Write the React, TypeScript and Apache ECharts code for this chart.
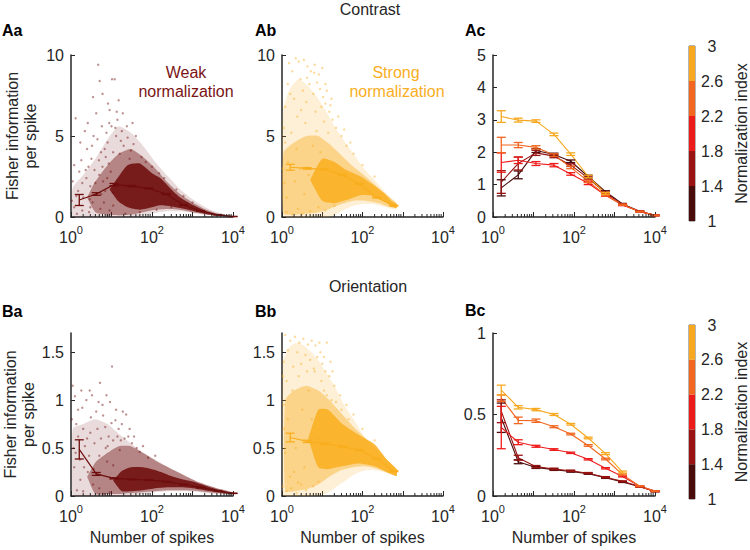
import React, { useEffect, useRef } from "react";
import * as echarts from "echarts";

const FONT = "'Liberation Sans', Arial, Helvetica, sans-serif";
const INK = "#262626";

// Normalization-index groups (1–1.4 … 2.6–3) and their colours
const NORM_EDGES = [1, 1.4, 1.8, 2.2, 2.6, 3];
const NORM_COLORS = ["#4a0b0b", "#9a1212", "#ee1b1b", "#f2661f", "#f7a81f"];
const WEAK_COLOR = "#6e0d0d";
const STRONG_COLOR = "#f9ae1e";

// Spike-count bin centres of the binned means
const SPIKE_BINS = [1.6, 4.2, 11.5, 32, 83, 224, 600, 1580, 4200, 10000];
const LOG_MINOR_TICKS = [
  2, 3, 4, 5, 6, 7, 8, 9, 20, 30, 40, 50, 60, 70, 80, 90,
  200, 300, 400, 500, 600, 700, 800, 900, 2000, 3000, 4000, 5000, 6000, 7000, 8000, 9000,
];

// ---- Contrast: binned means ± s.e.m. ----
const CONTRAST_WEAK_MEAN = [1.05, 1.42, 2.0, 1.91, 1.77, 1.42, 0.74, 0.37, 0.14, 0.03];
const CONTRAST_WEAK_SEM = [0.34, 0.08, 0.07, 0.04, 0.03, 0.03, 0.02, 0.02, 0.01, 0.01];
const CONTRAST_STRONG_MEAN = [3.07, 3.0, 2.94, 2.6, 2.04, 1.2, 0.7];
const CONTRAST_STRONG_SEM = [0.18, 0.05, 0.04, 0.03, 0.03, 0.03, 0.03];
const CONTRAST_BY_NORM_MEAN = [
  [0.9, 1.3, 2.05, 1.93, 1.72, 1.25, 0.78, 0.4, 0.18, 0.05],
  [1.08, 1.65, 1.98, 1.88, 1.6, 1.2, 0.74, 0.38, 0.17, 0.05],
  [1.68, 1.75, 1.65, 1.6, 1.33, 1.04, 0.67, 0.37, 0.17, 0.05],
  [2.22, 2.22, 2.15, 1.91, 1.53, 1.1, 0.68, 0.38, 0.17, 0.05],
  [3.1, 2.99, 2.96, 2.55, 1.94, 1.25, 0.73],
];
const CONTRAST_BY_NORM_SEM = [
  [0.25, 0.12, 0.06, 0.04, 0.04, 0.04, 0.03, 0.02, 0.01, 0.01],
  [0.35, 0.2, 0.08, 0.05, 0.04, 0.04, 0.03, 0.02, 0.01, 0.01],
  [0.3, 0.1, 0.06, 0.05, 0.04, 0.04, 0.03, 0.02, 0.01, 0.01],
  [0.24, 0.08, 0.05, 0.04, 0.04, 0.04, 0.03, 0.02, 0.01, 0.01],
  [0.18, 0.06, 0.04, 0.04, 0.04, 0.04, 0.03],
];

// ---- Orientation: binned means ± s.e.m. ----
const ORIENT_WEAK_MEAN = [0.486, 0.23, 0.184, 0.174, 0.167, 0.15, 0.12, 0.09, 0.055, 0.028];
const ORIENT_WEAK_SEM = [0.1, 0.015, 0.006, 0.004, 0.003, 0.003, 0.003, 0.003, 0.002, 0.002];
const ORIENT_STRONG_MEAN = [0.61, 0.57, 0.545, 0.515, 0.48, 0.39, 0.26];
const ORIENT_STRONG_SEM = [0.045, 0.012, 0.008, 0.006, 0.005, 0.005, 0.006];
const ORIENT_BY_NORM_MEAN = [
  [0.48, 0.21, 0.175, 0.162, 0.15, 0.137, 0.112, 0.086, 0.057, 0.028],
  [0.52, 0.235, 0.18, 0.166, 0.155, 0.14, 0.115, 0.09, 0.058, 0.028],
  [0.42, 0.33, 0.305, 0.285, 0.265, 0.225, 0.17, 0.12, 0.06, 0.03],
  [0.6, 0.464, 0.462, 0.425, 0.38, 0.31, 0.227, 0.131, 0.06, 0.03],
  [0.65, 0.544, 0.53, 0.5, 0.44, 0.356, 0.26, 0.147],
];
const ORIENT_BY_NORM_SEM = [
  [0.09, 0.012, 0.006, 0.005, 0.004, 0.004, 0.004, 0.003, 0.003, 0.002],
  [0.07, 0.015, 0.007, 0.005, 0.004, 0.004, 0.004, 0.003, 0.003, 0.002],
  [0.13, 0.015, 0.006, 0.005, 0.004, 0.004, 0.004, 0.003, 0.003, 0.002],
  [0.02, 0.02, 0.01, 0.006, 0.005, 0.005, 0.005, 0.004, 0.003, 0.002],
  [0.03, 0.01, 0.007, 0.006, 0.005, 0.005, 0.006, 0.006],
];

// ---- Per-neuron clouds: density bands [spikes, low, high] and sparse neurons [spikes, value] ----
const CW_HALO = [[1.1, 0, 1.8], [2, 0, 2.6], [4, 0, 3.6], [8, 0, 4.8], [15, 0, 5.6], [30, 0, 5.2], [60, 0.1, 4.4], [120, 0.25, 3.4], [250, 0.35, 2.5], [500, 0.35, 1.7], [1000, 0.25, 1.1], [2500, 0.12, 0.5], [6000, 0.04, 0.17], [10000, 0, 0.05]];
const CW_MID = [[2.5, 1.2, 1.2], [4, 0.3, 2.2], [8, 0.15, 3.2], [15, 0.1, 3.9], [30, 0.15, 4.2], [60, 0.3, 3.7], [120, 0.45, 3.0], [250, 0.5, 2.1], [500, 0.45, 1.4], [1000, 0.3, 0.9], [2000, 0.18, 0.5], [4000, 0.07, 0.22], [9000, 0.02, 0.06]];
const CW_CORE = [[9, 1.7, 1.7], [15, 0.95, 2.5], [25, 0.6, 3.2], [50, 0.45, 3.3], [100, 0.6, 2.7], [160, 0.72, 2.4], [300, 0.65, 1.7], [500, 0.55, 1.2], [1000, 0.38, 0.75], [2000, 0.2, 0.4], [4000, 0.08, 0.17], [9000, 0.02, 0.05]];
const CW_SPARSE = [[4.7, 9.4], [5.1, 8.4], [10.3, 8.5], [12, 8.5], [1.3, 6.1], [3.5, 7.4], [6, 7.6], [15, 7.2], [10, 5.6], [12.5, 5.5], [14, 6.0], [18, 5.3], [8, 4.6], [2.5, 4.2], [3.2, 3.6], [1.6, 2.8], [1.2, 0.6], [2, 1.2], [2.8, 0.3], [4, 2.1], [6, 3.1], [7, 1.6], [9, 0.4], [20, 4.4], [25, 4.9], [30, 4.1], [35, 4.5], [9, 6.6], [13, 5.0], [2.2, 5.3], [1.5, 1.6], [6.5, 0.9], [3.8, 2.9], [17, 4.7], [28, 3.6], [55, 3.7], [4.5, 4.8], [8.5, 3.3], [1.1, 2.2], [50, 0.3], [130, 0.45], [300, 0.6], [70, 3.4], [100, 3.1], [150, 2.7], [200, 2.4], [400, 1.7], [600, 1.3], [1000, 0.9], [1.8, 3.5], [3, 1.9], [5, 2.6], [7.5, 5.2], [11, 4.0], [16, 3.9], [22, 0.2], [1.05, 1.0], [1.4, 0.2], [2.4, 2.4], [3.4, 0.9], [5.6, 1.4], [7.8, 2.4], [11, 0.7], [8, 0.1], [1.2, 3.2], [1.7, 4.6], [2.6, 5.8], [3.6, 5.0], [4.2, 6.4], [5.8, 5.6], [6.8, 4.2], [8.2, 7.0], [1.9, 0.4], [2.3, 2.9], [2.9, 1.1], [3.3, 4.4], [4.4, 1.4], [5.3, 0.5], [6.2, 2.2], [7.2, 3.7], [9.6, 2.8], [10.8, 1.5], [1.35, 1.3], [1.9, 2.1], [4.9, 3.5], [3, 0.6], [13.5, 6.5], [24, 5.6], [40, 5.0], [33, 5.8], [19, 6.4], [8.8, 5.8], [2.7, 3.1], [5.5, 4.0]];

const CS_HALO = [[1.05, 0, 6.5], [1.5, 0, 7.8], [2.5, 0, 8.5], [4, 0, 8.2], [7, 0, 7.5], [12, 0, 6.6], [20, 0.1, 5.6], [35, 0.45, 4.7], [60, 0.7, 3.9], [100, 0.8, 3.1], [180, 0.8, 2.4], [320, 0.65, 1.7], [550, 0.5, 1.1], [700, 0.5, 0.85]];
const CS_MID = [[1.1, 0.2, 4.0], [2, 0.15, 4.6], [4, 0.2, 5.0], [8, 0.3, 5.0], [15, 0.5, 4.5], [30, 0.8, 3.8], [60, 1.0, 3.1], [120, 1.0, 2.5], [250, 0.85, 1.8], [500, 0.6, 1.15], [700, 0.55, 0.85]];
const CS_CORE = [[5, 2.3, 2.3], [10, 1.0, 3.6], [20, 0.85, 3.4], [40, 1.05, 2.9], [90, 1.35, 2.5], [180, 1.3, 2.0], [350, 0.95, 1.45], [550, 0.65, 0.95], [700, 0.55, 0.78]];
const CS_SPARSE = [[2.2, 9.8], [2.6, 9.6], [3.5, 9.7], [4.3, 9.3], [5.2, 9.0], [6.3, 8.9], [1.8, 9.0], [2.9, 8.5], [4.8, 8.2], [7.5, 8.3], [8.8, 7.9], [1.4, 8.2], [3.3, 7.8], [6.0, 7.6], [10.5, 7.4], [12, 7.0], [2.0, 7.3], [1.2, 6.8], [4.0, 7.1], [15, 6.5], [18, 6.0], [9.5, 6.8], [22, 5.5], [30, 5.0], [1.1, 5.5], [1.6, 7.6], [13, 7.8], [40, 4.4], [60, 3.9], [100, 3.2], [200, 2.5], [1.3, 0.3], [1.8, 0.15], [2.5, 0.5], [3.2, 0.2], [5, 0.35], [8, 0.6], [12, 0.4], [20, 0.7], [1.05, 3.0], [1.2, 4.6], [2.4, 6.2], [3.8, 5.8], [6.8, 6.5], [1.15, 2.1], [1.4, 3.4], [1.7, 5.2], [2.3, 4.2], [2.8, 3.0], [3.6, 1.4], [4.6, 2.6], [5.8, 4.4], [7.2, 5.3], [9, 4.0], [11, 5.9], [14, 5.2], [17, 7.3], [25, 6.2], [35, 5.4], [50, 4.6], [1.3, 1.2], [2.1, 2.2], [3.0, 6.6], [4.2, 8.6], [6.5, 9.4], [8.2, 8.8], [10, 9.2], [1.5, 9.5], [12, 8.2], [16, 6.9]];

const OW_HALO = [[1.1, 0, 0.7], [2, 0, 0.75], [4, 0, 0.8], [8, 0, 0.75], [15, 0, 0.65], [30, 0, 0.55], [60, 0.02, 0.45], [120, 0.04, 0.38], [250, 0.05, 0.3], [600, 0.05, 0.22], [1500, 0.04, 0.14], [4000, 0.02, 0.08], [10000, 0.01, 0.04]];
const OW_MID = [[2.5, 0.2, 0.2], [4, 0.02, 0.35], [8, 0.02, 0.45], [15, 0.02, 0.52], [30, 0.03, 0.52], [60, 0.04, 0.45], [120, 0.05, 0.37], [250, 0.06, 0.3], [600, 0.06, 0.22], [1500, 0.05, 0.14], [4000, 0.03, 0.08], [10000, 0.015, 0.035]];
const OW_CORE = [[11, 0.16, 0.16], [18, 0.05, 0.26], [30, 0.05, 0.3], [60, 0.06, 0.3], [120, 0.08, 0.27], [250, 0.09, 0.22], [500, 0.09, 0.18], [1000, 0.08, 0.15], [2000, 0.06, 0.11], [4000, 0.04, 0.07], [10000, 0.02, 0.03]];
const OW_SPARSE = [[1.1, 1.15], [1.25, 1.04], [1.5, 0.9], [1.9, 0.92], [2.4, 1.0], [3.3, 1.05], [5.2, 1.18], [10.3, 1.35], [9.2, 0.98], [4.2, 0.88], [6.2, 0.84], [12.5, 0.79], [1.5, 0.62], [2.2, 0.52], [3, 0.66], [7, 0.72], [15, 0.7], [18, 0.75], [21, 0.6], [26, 0.62], [1.2, 0.3], [1.7, 0.17], [2.8, 0.42], [8, 0.52], [1.4, 0.06], [32, 0.55], [42, 0.5], [1.05, 0.8], [1.3, 0.45], [2, 0.7], [2.6, 0.25], [3.8, 0.55], [5.5, 0.6], [7.8, 0.36], [11, 0.58], [13, 0.9], [16, 0.48], [23, 0.85], [50, 0.46], [80, 0.4], [120, 0.42], [2.0, 0.05], [3.5, 0.12], [5, 0.08], [6.5, 0.02], [9, 0.04], [1.15, 0.5], [1.35, 0.75], [1.65, 0.38], [2.1, 0.3], [2.5, 0.6], [3.1, 0.82], [3.6, 0.28], [4.5, 0.7], [5, 0.42], [6, 0.95], [7.2, 0.5], [8.5, 0.62], [10, 0.76], [11, 0.32], [14, 0.62], [17, 0.58], [19, 0.88], [28, 0.7], [36, 0.62], [60, 0.52], [1.8, 1.1], [2.9, 1.1], [4.8, 0.98], [7.5, 1.05]];

const OS_HALO = [[1.05, 0, 1.4], [1.5, 0, 1.55], [2.5, 0, 1.6], [4, 0, 1.55], [7, 0, 1.45], [12, 0.02, 1.3], [20, 0.08, 1.15], [35, 0.15, 0.95], [60, 0.22, 0.8], [100, 0.26, 0.65], [180, 0.27, 0.52], [320, 0.25, 0.42], [550, 0.22, 0.32], [700, 0.21, 0.28]];
const OS_MID = [[1.2, 0.05, 1.0], [2, 0.05, 1.1], [4, 0.07, 1.15], [8, 0.12, 1.1], [15, 0.2, 1.0], [30, 0.27, 0.86], [60, 0.3, 0.72], [120, 0.31, 0.6], [250, 0.28, 0.47], [500, 0.23, 0.34], [700, 0.21, 0.28]];
const OS_CORE = [[4.5, 0.6, 0.6], [8, 0.3, 0.9], [14, 0.28, 0.9], [30, 0.31, 0.76], [80, 0.34, 0.64], [200, 0.31, 0.54], [400, 0.25, 0.38], [700, 0.21, 0.28]];
const OS_SPARSE = [[1.2, 1.68], [1.6, 1.62], [2.1, 1.66], [2.7, 1.6], [3.4, 1.64], [4.4, 1.58], [5.5, 1.62], [6.8, 1.57], [8.5, 1.6], [1.4, 1.52], [2.4, 1.5], [3.8, 1.47], [5.0, 1.42], [7.5, 1.45], [10, 1.38], [1.1, 1.4], [1.9, 1.35], [3.0, 1.38], [12, 1.3], [15, 1.25], [4.2, 1.3], [6.2, 1.33], [20, 1.15], [28, 1.05], [40, 0.95], [1.3, 1.2], [1.05, 0.1], [1.3, 0.05], [1.7, 0.08], [2.3, 0.03], [3.0, 0.12], [4.0, 0.06], [6, 0.1], [8, 0.15], [1.1, 0.7], [2.0, 0.25], [60, 0.85], [100, 0.7], [200, 0.58], [1.1, 0.95], [1.4, 0.8], [1.8, 1.1], [2.2, 0.5], [2.6, 1.25], [3.2, 0.9], [3.6, 0.3], [4.6, 1.1], [5.5, 0.8], [6.5, 1.3], [7.8, 0.6], [9.5, 1.2], [11, 1.1], [13, 1.05], [17, 1.0], [22, 0.98], [30, 0.9], [45, 0.8], [1.2, 0.45], [1.6, 0.2], [2.5, 0.14], [1.05, 1.25], [9, 1.5], [11, 1.45], [13, 1.6], [16, 1.4], [18, 1.3]];

type Band = number[][];

const GRIDS = [
  { left: 71, top: 55, width: 162, height: 162 },
  { left: 282, top: 55, width: 161, height: 162 },
  { left: 493, top: 55, width: 162, height: 162 },
  { left: 71, top: 333, width: 162, height: 163 },
  { left: 282, top: 333, width: 161, height: 163 },
  { left: 493, top: 333, width: 162, height: 163 },
  { left: 689, top: 46, width: 7, height: 175 },
  { left: 689, top: 325, width: 7, height: 174 },
];
const Y_MAX = [10, 10, 5, 1.7, 1.7, 1];
const Y_TICKS = [[0, 5, 10], [0, 5, 10], [0, 1, 2, 3, 4, 5], [0, 0.5, 1, 1.5], [0, 0.5, 1, 1.5], [0, 0.5, 1]];

function cloud(gi: number, band: Band, color: string, opacity: number) {
  return {
    type: "custom",
    xAxisIndex: gi,
    yAxisIndex: gi,
    silent: true,
    clip: true,
    z: 1,
    data: [[band[0][0], band[0][2]]],
    renderItem: (_p: any, api: any) => {
      const upper = band.map((b) => api.coord([b[0], b[2]]));
      const lower = band.slice().reverse().map((b) => api.coord([b[0], b[1]]));
      return {
        type: "polygon",
        shape: { points: upper.concat(lower), smooth: 0.2 },
        style: { fill: color, opacity },
      };
    },
  };
}

function sparse(gi: number, pts: number[][], color: string) {
  return {
    type: "scatter",
    xAxisIndex: gi,
    yAxisIndex: gi,
    silent: true,
    z: 2,
    symbolSize: 2.4,
    data: pts,
    itemStyle: { color, opacity: 0.45 },
  };
}

function meanLine(gi: number, mean: number[], color: string, width = 1.2) {
  return {
    type: "line",
    xAxisIndex: gi,
    yAxisIndex: gi,
    silent: true,
    z: 4,
    symbol: "none",
    data: mean.map((m, i) => [SPIKE_BINS[i], m]),
    lineStyle: { color, width },
  };
}

function errorBars(gi: number, mean: number[], sem: number[], color: string) {
  return {
    type: "custom",
    xAxisIndex: gi,
    yAxisIndex: gi,
    silent: true,
    z: 5,
    encode: { x: 0, y: [1, 2] },
    data: mean.map((m, i) => [SPIKE_BINS[i], m - sem[i], m + sem[i]]),
    renderItem: (_p: any, api: any) => {
      const lo = api.coord([api.value(0), api.value(1)]);
      const hi = api.coord([api.value(0), api.value(2)]);
      const w = 4.5;
      const s = { stroke: color, lineWidth: 1.3 };
      return {
        type: "group",
        children: [
          { type: "line", shape: { x1: lo[0], y1: lo[1], x2: hi[0], y2: hi[1] }, style: s },
          { type: "line", shape: { x1: lo[0] - w, y1: lo[1], x2: lo[0] + w, y2: lo[1] }, style: s },
          { type: "line", shape: { x1: hi[0] - w, y1: hi[1], x2: hi[0] + w, y2: hi[1] }, style: s },
        ],
      };
    },
  };
}

function minorTicks(gi: number) {
  return {
    type: "custom",
    xAxisIndex: gi,
    yAxisIndex: gi,
    silent: true,
    z: 6,
    data: LOG_MINOR_TICKS.map((v) => [v, 0]),
    renderItem: (_p: any, api: any) => {
      const p = api.coord([api.value(0), 0]);
      return {
        type: "line",
        shape: { x1: p[0], y1: p[1], x2: p[0], y2: p[1] - 3 },
        style: { stroke: INK, lineWidth: 1 },
      };
    },
  };
}

function colorbar(gi: number) {
  return {
    type: "custom",
    xAxisIndex: gi,
    yAxisIndex: gi,
    silent: true,
    encode: { x: 0, y: [1, 2] },
    data: NORM_COLORS.map((_c, i) => [0.5, NORM_EDGES[i], NORM_EDGES[i + 1], i]),
    renderItem: (_p: any, api: any) => {
      const a = api.coord([0, api.value(2)]);
      const b = api.coord([1, api.value(1)]);
      return {
        type: "rect",
        shape: { x: a[0], y: a[1], width: b[0] - a[0], height: b[1] - a[1] },
        style: { fill: NORM_COLORS[api.value(3)] },
      };
    },
  };
}

function buildOption() {
  const xAxes: any[] = [];
  const yAxes: any[] = [];
  for (let i = 0; i < 6; i++) {
    xAxes.push({
      type: "log",
      logBase: 10,
      gridIndex: i,
      min: 1,
      max: 10000,
      axisLine: { show: true, onZero: false, lineStyle: { color: INK, width: 1.5 } },
      axisTick: { show: true, inside: true, length: 5, lineStyle: { color: INK, width: 1 } },
      splitLine: { show: false },
      axisLabel: {
        margin: 7,
        formatter: (v: number) => {
          const e = Math.round(Math.log10(v));
          return e % 2 === 0 ? `{b|10}{s|${e}}` : "";
        },
        rich: {
          b: { fontSize: 16, fontFamily: FONT, color: INK, lineHeight: 21, verticalAlign: "bottom" },
          s: { fontSize: 11, fontFamily: FONT, color: INK, lineHeight: 12, verticalAlign: "top" },
        },
      },
      name: i >= 3 ? "Number of spikes" : "",
      nameLocation: "middle",
      nameGap: 33,
      nameTextStyle: { fontSize: 16, fontFamily: FONT, color: INK },
    });
    yAxes.push({
      type: "value",
      gridIndex: i,
      min: 0,
      max: Y_MAX[i],
      axisLine: { show: true, lineStyle: { color: INK, width: 1.5 } },
      axisTick: { show: true, inside: true, length: 4, customValues: Y_TICKS[i], lineStyle: { color: INK } },
      axisLabel: {
        customValues: Y_TICKS[i],
        margin: 7,
        fontSize: 16,
        fontFamily: FONT,
        color: INK,
        formatter: (v: number) => String(v),
      },
      splitLine: { show: false },
      name: i === 0 || i === 3 ? "Fisher information\nper spike" : "",
      nameLocation: "middle",
      nameRotate: 90,
      nameGap: 32,
      nameTextStyle: { fontSize: 16, fontFamily: FONT, color: INK, lineHeight: 18 },
    });
  }
  for (let i = 6; i < 8; i++) {
    xAxes.push({ type: "value", gridIndex: i, min: 0, max: 1, show: false });
    yAxes.push({
      type: "value",
      gridIndex: i,
      position: "right",
      min: 1,
      max: 3,
      axisLine: { show: false },
      axisTick: { show: false },
      splitLine: { show: false },
      axisLabel: {
        customValues: NORM_EDGES,
        margin: 17,
        align: "center",
        fontSize: 16,
        fontFamily: FONT,
        color: INK,
        formatter: (v: number) => String(Math.round(v * 10) / 10),
      },
      name: "Normalization index",
      nameLocation: "middle",
      nameRotate: 90,
      nameGap: 38,
      nameTextStyle: { fontSize: 16, fontFamily: FONT, color: INK },
    });
  }

  const series: any[] = [];
  // Aa: contrast, weak normalization
  series.push(cloud(0, CW_HALO, WEAK_COLOR, 0.15), cloud(0, CW_MID, WEAK_COLOR, 0.42), cloud(0, CW_CORE, WEAK_COLOR, 0.88));
  series.push(sparse(0, CW_SPARSE, WEAK_COLOR));
  series.push(meanLine(0, CONTRAST_WEAK_MEAN, WEAK_COLOR), errorBars(0, CONTRAST_WEAK_MEAN, CONTRAST_WEAK_SEM, WEAK_COLOR));
  // Ab: contrast, strong normalization
  series.push(cloud(1, CS_HALO, STRONG_COLOR, 0.18), cloud(1, CS_MID, STRONG_COLOR, 0.42), cloud(1, CS_CORE, STRONG_COLOR, 0.85));
  series.push(sparse(1, CS_SPARSE, STRONG_COLOR));
  series.push(meanLine(1, CONTRAST_STRONG_MEAN, STRONG_COLOR), errorBars(1, CONTRAST_STRONG_MEAN, CONTRAST_STRONG_SEM, STRONG_COLOR));
  // Ac: contrast, by normalization index
  CONTRAST_BY_NORM_MEAN.forEach((m, k) => {
    series.push(meanLine(2, m, NORM_COLORS[k], 1.1), errorBars(2, m, CONTRAST_BY_NORM_SEM[k], NORM_COLORS[k]));
  });
  // Ba: orientation, weak normalization
  series.push(cloud(3, OW_HALO, WEAK_COLOR, 0.15), cloud(3, OW_MID, WEAK_COLOR, 0.42), cloud(3, OW_CORE, WEAK_COLOR, 0.88));
  series.push(sparse(3, OW_SPARSE, WEAK_COLOR));
  series.push(meanLine(3, ORIENT_WEAK_MEAN, WEAK_COLOR), errorBars(3, ORIENT_WEAK_MEAN, ORIENT_WEAK_SEM, WEAK_COLOR));
  // Bb: orientation, strong normalization
  series.push(cloud(4, OS_HALO, STRONG_COLOR, 0.18), cloud(4, OS_MID, STRONG_COLOR, 0.42), cloud(4, OS_CORE, STRONG_COLOR, 0.85));
  series.push(sparse(4, OS_SPARSE, STRONG_COLOR));
  series.push(meanLine(4, ORIENT_STRONG_MEAN, STRONG_COLOR), errorBars(4, ORIENT_STRONG_MEAN, ORIENT_STRONG_SEM, STRONG_COLOR));
  // Bc: orientation, by normalization index
  ORIENT_BY_NORM_MEAN.forEach((m, k) => {
    series.push(meanLine(5, m, NORM_COLORS[k], 1.1), errorBars(5, m, ORIENT_BY_NORM_SEM[k], NORM_COLORS[k]));
  });
  for (let i = 0; i < 6; i++) series.push(minorTicks(i));
  series.push(colorbar(6), colorbar(7));

  const label = (text: string, x: number, y: number) => ({
    type: "text",
    x,
    y,
    style: { text, font: `bold 16px ${FONT}`, fill: "#000", align: "left", verticalAlign: "middle" },
  });
  const plain = (text: string, x: number, y: number, fill: string, size = 16) => ({
    type: "text",
    x,
    y,
    style: { text, font: `${size}px ${FONT}`, fill, align: "center", verticalAlign: "middle" },
  });

  return {
    animation: false,
    backgroundColor: "#fff",
    grid: GRIDS.map((g, i) => ({
      ...g,
      containLabel: false,
      show: i >= 6,
      borderColor: "#6a6a6a",
      borderWidth: 1,
      backgroundColor: "transparent",
    })),
    xAxis: xAxes,
    yAxis: yAxes,
    series,
    graphic: [
      label("Aa", 2, 30),
      label("Ab", 255, 30),
      label("Ac", 465, 30),
      label("Ba", 2, 311),
      label("Bb", 255, 311),
      label("Bc", 465, 310),
      plain("Contrast", 370, 9, INK, 16),
      plain("Orientation", 368, 286, INK, 16),
      plain("Weak", 186, 72, "#7a1414"),
      plain("normalization", 186, 91, "#7a1414"),
      plain("Strong", 396, 72, STRONG_COLOR),
      plain("normalization", 397, 91, STRONG_COLOR),
    ],
  };
}

export default function App() {
  const ref = useRef<HTMLDivElement>(null);
  useEffect(() => {
    if (!ref.current) return;
    const chart = echarts.init(ref.current, undefined, { renderer: "svg" });
    chart.setOption(buildOption() as any);
    return () => chart.dispose();
  }, []);
  return (
    <div
      ref={ref}
      style={{ position: "fixed", left: 0, top: 0, width: 750, height: 550, background: "#fff" }}
    />
  );
}
